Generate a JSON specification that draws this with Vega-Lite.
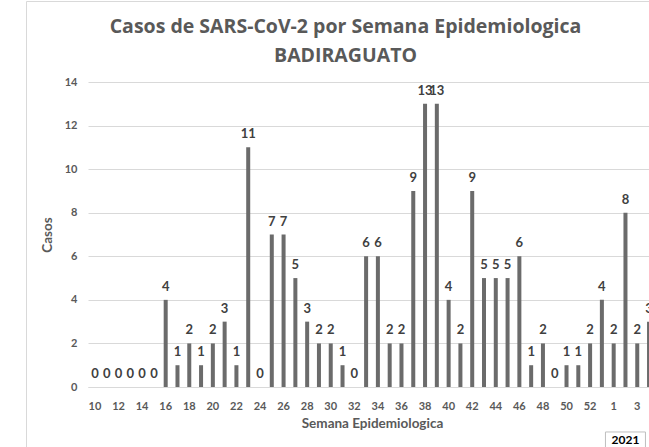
{
  "$schema": "https://vega.github.io/schema/vega-lite/v6.json",
  "width": 561,
  "height": 305,
  "autosize": {"type": "none"},
  "padding": {"left": 88, "top": 82, "right": 0, "bottom": 60},
  "background": "white",
  "title": {
    "text": ["Casos de SARS-CoV-2 por Semana Epidemiologica", "BADIRAGUATO"],
    "font": "Open Sans",
    "fontSize": 19.5,
    "fontWeight": "bold",
    "color": "#595959",
    "anchor": "middle",
    "frame": "group",
    "dx": -23,
    "lineHeight": 28.5,
    "offset": -65
  },
  "config": {"font": "Lato", "view": {"stroke": null}},
  "datasets": {
    "semanas": [
      {"semana": "10", "casos": 0}, {"semana": "11", "casos": 0}, {"semana": "12", "casos": 0},
      {"semana": "13", "casos": 0}, {"semana": "14", "casos": 0}, {"semana": "15", "casos": 0},
      {"semana": "16", "casos": 4}, {"semana": "17", "casos": 1}, {"semana": "18", "casos": 2},
      {"semana": "19", "casos": 1}, {"semana": "20", "casos": 2}, {"semana": "21", "casos": 3},
      {"semana": "22", "casos": 1}, {"semana": "23", "casos": 11}, {"semana": "24", "casos": 0},
      {"semana": "25", "casos": 7}, {"semana": "26", "casos": 7}, {"semana": "27", "casos": 5},
      {"semana": "28", "casos": 3}, {"semana": "29", "casos": 2}, {"semana": "30", "casos": 2},
      {"semana": "31", "casos": 1}, {"semana": "32", "casos": 0}, {"semana": "33", "casos": 6},
      {"semana": "34", "casos": 6}, {"semana": "35", "casos": 2}, {"semana": "36", "casos": 2},
      {"semana": "37", "casos": 9}, {"semana": "38", "casos": 13}, {"semana": "39", "casos": 13},
      {"semana": "40", "casos": 4}, {"semana": "41", "casos": 2}, {"semana": "42", "casos": 9},
      {"semana": "43", "casos": 5}, {"semana": "44", "casos": 5}, {"semana": "45", "casos": 5},
      {"semana": "46", "casos": 6}, {"semana": "47", "casos": 1}, {"semana": "48", "casos": 2},
      {"semana": "49", "casos": 0}, {"semana": "50", "casos": 1}, {"semana": "51", "casos": 1},
      {"semana": "52", "casos": 2}, {"semana": "53", "casos": 4}, {"semana": "1", "casos": 2},
      {"semana": "2", "casos": 8}, {"semana": "3", "casos": 2}, {"semana": "4", "casos": 3}
    ],
    "anio": [{"semana": "2", "texto": "2021"}],
    "marco": [{"borde": 0}]
  },
  "layer": [
    {
      "layer": [
        {
          "data": {"name": "semanas"},
          "mark": {"type": "bar", "color": "#6b6b6b"},
          "encoding": {
            "x": {
              "field": "semana",
              "type": "nominal",
              "sort": null,
              "scale": {
                "type": "band",
                "domain": ["10","11","12","13","14","15","16","17","18","19","20","21","22","23","24","25","26","27","28","29","30","31","32","33","34","35","36","37","38","39","40","41","42","43","44","45","46","47","48","49","50","51","52","53","1","2","3","4"],
                "range": [0, 568],
                "paddingInner": 0.66,
                "paddingOuter": 0.42
              },
              "axis": {
                "orient": "bottom",
                "values": ["10","12","14","16","18","20","22","24","26","28","30","32","34","36","38","40","42","44","46","48","50","52","1","3"],
                "labelAngle": 0,
                "labelOverlap": false,
                "labelFont": "Lato",
                "labelFontSize": 11,
                "labelFontWeight": "bold",
                "labelColor": "#595959",
                "labelPadding": 13,
                "ticks": false,
                "domainColor": "#d9d9d9",
                "title": "Semana Epidemiologica",
                "titleFont": "Lato",
                "titleFontSize": 13.5,
                "titleFontWeight": "bold",
                "titleColor": "#595959",
                "titlePadding": 5
              }
            },
            "y": {
              "field": "casos",
              "type": "quantitative",
              "scale": {"domain": [0, 14], "nice": false},
              "axis": {
                "orient": "left",
                "values": [0, 2, 4, 6, 8, 10, 12, 14],
                "labelFont": "Lato",
                "labelFontSize": 11,
                "labelFontWeight": "bold",
                "labelColor": "#595959",
                "labelPadding": 11,
                "ticks": false,
                "domain": false,
                "gridColor": "#d9d9d9",
                "title": "Casos",
                "titleFont": "Lato",
                "titleFontSize": 13.5,
                "titleFontWeight": "bold",
                "titleColor": "#595959",
                "titlePadding": 10
              }
            }
          }
        },
        {
          "data": {"name": "semanas"},
          "mark": {"type": "text", "baseline": "alphabetic", "dy": -9, "font": "Lato", "fontSize": 13, "fontWeight": "bold", "color": "#404040"},
          "encoding": {
            "x": {"field": "semana", "type": "nominal", "sort": null},
            "y": {"field": "casos", "type": "quantitative"},
            "text": {"field": "casos", "type": "quantitative"}
          }
        },
        {
          "data": {"name": "anio"},
          "mark": {"type": "point", "shape": "M-1,-0.42H1V0.42H-1Z", "size": 1600, "filled": false, "stroke": "#bfbfbf", "strokeWidth": 1, "opacity": 1},
          "encoding": {
            "x": {"field": "semana", "type": "nominal", "sort": null},
            "y": {"datum": -2.45}
          }
        },
        {
          "data": {"name": "anio"},
          "mark": {"type": "text", "baseline": "middle", "font": "Lato", "fontSize": 12, "fontWeight": "bold", "color": "#000000"},
          "encoding": {
            "x": {"field": "semana", "type": "nominal", "sort": null},
            "y": {"datum": -2.45},
            "text": {"field": "texto", "type": "nominal"}
          }
        }
      ]
    },
    {
      "data": {"name": "marco"},
      "mark": {"type": "point", "opacity": 0},
      "encoding": {
        "x": {
          "field": "borde",
          "type": "quantitative",
          "scale": {"domain": [0, 1], "range": [-62, 580], "nice": false, "zero": false},
          "axis": {"orient": "top", "offset": 81, "labels": false, "ticks": false, "grid": false, "title": null, "domainColor": "#d9d9d9", "domainWidth": 1}
        },
        "y": {
          "field": "borde",
          "type": "quantitative",
          "scale": {"domain": [0, 1], "range": [460, -81], "nice": false, "zero": false},
          "axis": {"orient": "left", "offset": 62, "labels": false, "ticks": false, "grid": false, "title": null, "domainColor": "#d9d9d9", "domainWidth": 1}
        }
      }
    }
  ],
  "resolve": {"scale": {"x": "independent", "y": "independent"}, "axis": {"x": "independent", "y": "independent"}}
}
